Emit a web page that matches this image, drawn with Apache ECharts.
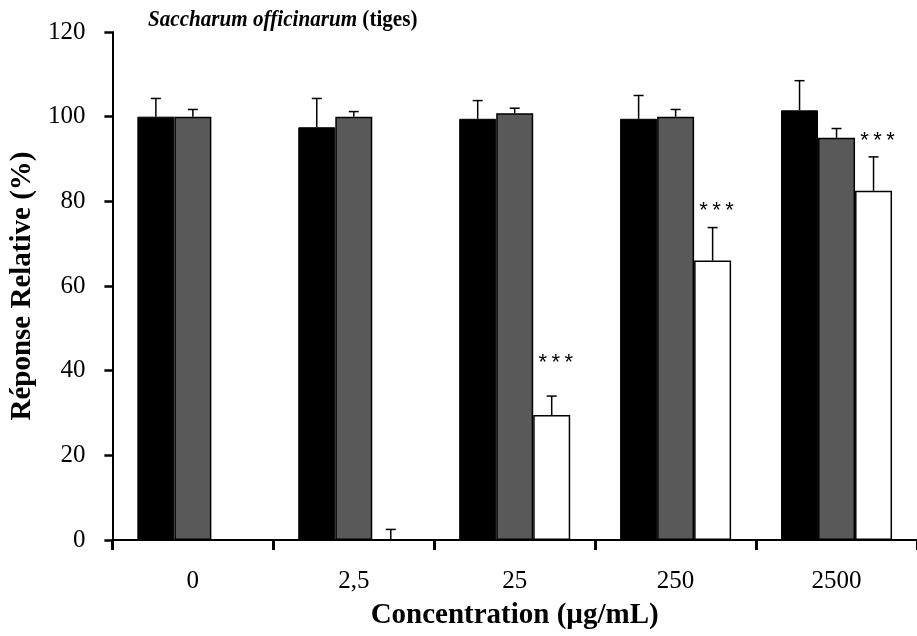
<!DOCTYPE html>
<html>
<head>
<meta charset="utf-8">
<script src="https://cdn.jsdelivr.net/npm/echarts@6/dist/echarts.min.js"></script>
<style>
html, body { margin: 0; padding: 0; background: #fff; }
#chart { width: 917px; height: 636px; }
</style>
</head>
<body>
<div id="chart"></div>
<script>
// concentrations (µg/mL)
var categories = ['0', '2,5', '25', '250', '2500'];

// relative response (%) per series
var blackVals = [100, 97.5, 99.5, 99.5, 101.5];
var grayVals  = [100, 100, 100.8, 100, 95];
var whiteVals = [0, 0, 29.5, 66, 82.5];

// upper error (value at the top of the whisker), null = no whisker
var blackErr = [104.3, 104.3, 103.8, 105, 108.5];
var grayErr  = [101.7, 101.2, 102, 101.7, 97.2];
var whiteErr = [null, 2.5, 34, 73.8, 90.5];

// significance marks above the white bars
var sigText = ['', '', '***', '***', '***'];
var sigPos  = [0, 0, 43, 79, 95.5];

var yTicks = [0, 20, 40, 60, 80, 100, 120];

var serif = '"Liberation Serif", "Times New Roman", serif';
var barW = 37;

var myChart = echarts.init(document.getElementById('chart'));

function errData(vals, errs) {
    var out = [];
    vals.forEach(function (v, i) {
        if (errs[i] != null) out.push([i, v, errs[i]]);
    });
    return out;
}

function errSeries(vals, errs, slot) {
    return {
        type: 'custom',
        z: 5,
        data: errData(vals, errs),
        renderItem: function (params, api) {
            var base = api.coord([api.value(0), api.value(1)]);
            var top = api.coord([api.value(0), api.value(2)]);
            var x = base[0] + slot * barW;
            var cap = 5;
            return {
                type: 'group',
                children: [
                    { type: 'line', shape: { x1: x, y1: base[1], x2: x, y2: top[1] },
                      style: { stroke: '#000', lineWidth: 1.5 } },
                    { type: 'line', shape: { x1: x - cap, y1: top[1], x2: x + cap, y2: top[1] },
                      style: { stroke: '#000', lineWidth: 1.5 } }
                ]
            };
        }
    };
}

var option = {
    animation: false,
    backgroundColor: '#fff',
    // title drawn as graphic text so it can be squeezed a little like the original
    graphic: [{
        type: 'text',
        x: 148,
        y: 20,
        scaleX: 0.88,
        style: {
            text: '{a|Saccharum officinarum}{b| (tiges)}',
            verticalAlign: 'middle',
            rich: {
                a: { fontFamily: serif, fontStyle: 'italic', fontWeight: 'bold', fontSize: 24, fill: '#000' },
                b: { fontFamily: serif, fontWeight: 'bold', fontSize: 24, fill: '#000' }
            }
        }
    }],
    grid: { left: 111, right: 0, top: 32, bottom: 96 },
    xAxis: {
        type: 'category',
        data: categories,
        name: 'Concentration (µg/mL)',
        nameLocation: 'middle',
        nameGap: 61,
        nameTextStyle: { fontFamily: serif, fontWeight: 'bold', fontSize: 29, color: '#000' },
        axisLine: { lineStyle: { color: '#000', width: 2 } },
        axisTick: { show: true, length: 10, lineStyle: { color: '#000', width: 3 } },
        axisLabel: { fontFamily: serif, fontSize: 25, color: '#000', margin: 29 }
    },
    yAxis: {
        type: 'value',
        min: yTicks[0],
        max: yTicks[yTicks.length - 1],
        interval: 20,
        name: 'Réponse Relative (%)',
        nameLocation: 'middle',
        nameGap: 73,
        nameTextStyle: { fontFamily: serif, fontWeight: 'bold', fontSize: 29, color: '#000' },
        splitLine: { show: false },
        axisLine: { show: true, lineStyle: { color: '#000', width: 2 } },
        axisTick: { show: true, length: 8, lineStyle: { color: '#000', width: 2.5 } },
        axisLabel: { fontFamily: serif, fontSize: 25, color: '#000', margin: 27 }
    },
    series: [
        {
            type: 'bar', name: 'black', data: blackVals,
            barWidth: barW, barGap: '0%',
            itemStyle: { color: '#000', borderColor: '#000', borderWidth: 1 }
        },
        {
            type: 'bar', name: 'gray', data: grayVals,
            barWidth: barW, barGap: '0%',
            itemStyle: { color: '#595959', borderColor: '#000', borderWidth: 1.5 }
        },
        {
            type: 'bar', name: 'white', data: whiteVals,
            barWidth: barW, barGap: '0%',
            itemStyle: { color: '#fff', borderColor: '#000', borderWidth: 1.5 }
        },
        errSeries(blackVals, blackErr, -1),
        errSeries(grayVals, grayErr, 0),
        errSeries(whiteVals, whiteErr, 1),
        {
            type: 'custom',
            z: 6,
            data: sigPos.map(function (v, i) { return [i, v]; }),
            renderItem: function (params, api) {
                var t = sigText[params.dataIndex];
                if (!t) return null;
                var p = api.coord([api.value(0), api.value(1)]);
                var cx = p[0] + barW + 4;
                var kids = t.split('').map(function (ch, k) {
                    return {
                        type: 'text',
                        x: cx + (k - (t.length - 1) / 2) * 13,
                        y: p[1] + 5,
                        style: {
                            text: ch,
                            fontFamily: '"Liberation Sans", Arial, sans-serif',
                            fontSize: 22,
                            fill: '#000',
                            align: 'center',
                            verticalAlign: 'middle'
                        }
                    };
                });
                return { type: 'group', children: kids };
            }
        }
    ]
};
myChart.setOption(option);
</script>
</body>
</html>
